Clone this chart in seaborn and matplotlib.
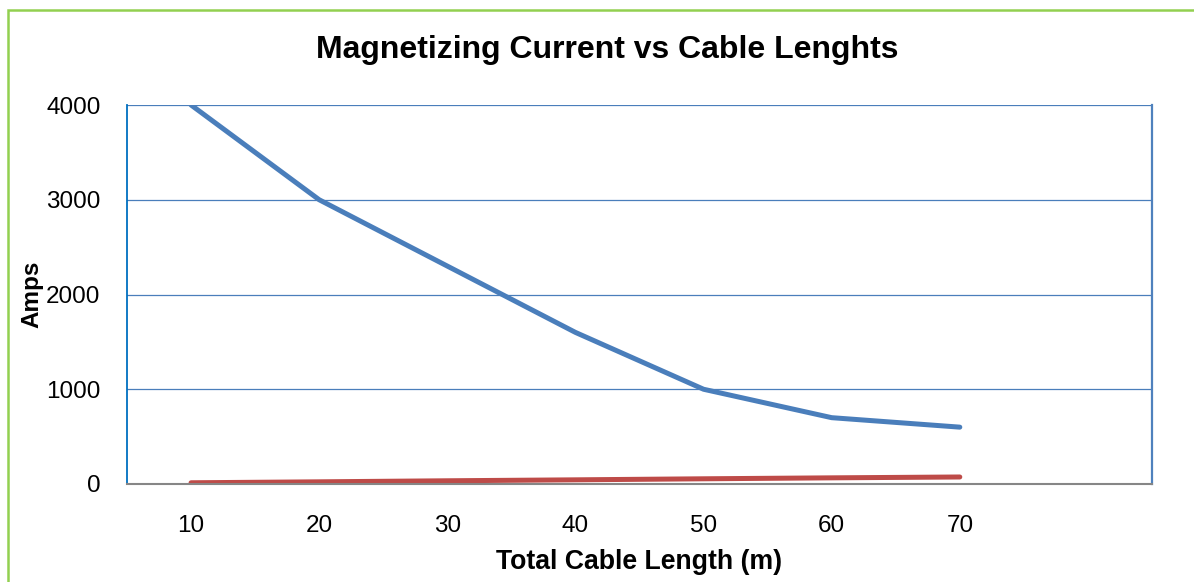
import matplotlib
matplotlib.use("Agg")
import matplotlib.pyplot as plt
import seaborn as sns
import pandas as pd
from matplotlib.patches import Rectangle

lengths = [10, 20, 30, 40, 50, 60, 70]
magnetizing_current = [4000, 3000, 2300, 1600, 1000, 700, 600]
second_series = [13, 23, 34, 44, 55, 65, 74]
y_ticks = [0, 1000, 2000, 3000, 4000]
title = "Magnetizing Current vs Cable Lenghts"
xlabel = "Total Cable Length (m)"
ylabel = "Amps"

sns.set_theme(style="white")
plt.rcParams['font.family'] = ['Liberation Sans', 'DejaVu Sans']
plt.rcParams['text.color'] = 'black'
plt.rcParams['axes.labelcolor'] = 'black'
plt.rcParams['xtick.color'] = 'black'
plt.rcParams['ytick.color'] = 'black'

df = pd.DataFrame({
    "x": lengths * 2,
    "y": magnetizing_current + second_series,
    "s": ["Magnetizing current"] * len(lengths) + ["Series 2"] * len(lengths),
})

fig = plt.figure(figsize=(11.94, 5.82), dpi=100)
fig.patch.set_facecolor("white")
ax = fig.add_axes([127/1194, 1-484/582, (1152-127)/1194, (484-105)/582])

sns.lineplot(data=df, x="x", y="y", hue="s", palette=["#4A7EBB", "#BE4B48"],
             linewidth=3.6, legend=False, ax=ax, solid_capstyle="round")

ax.set_xlim(5, 85)
ax.set_ylim(0, 4000)
ax.set_xticks(lengths)
ax.set_yticks(y_ticks)
ax.set_xticklabels([str(v) for v in lengths], fontsize=17.5)
ax.set_yticklabels([str(v) for v in y_ticks], fontsize=17.5)
ax.tick_params(axis="both", length=0)
ax.tick_params(axis="x", pad=22)
ax.tick_params(axis="y", pad=19)

for v in y_ticks[1:]:
    ax.axhline(v, color="#4A7EBB", linewidth=0.9, zorder=0.5)
ax.set_axisbelow(True)

ax.spines["top"].set_visible(False)
ax.spines["left"].set_color("#0070C0")
ax.spines["left"].set_linewidth(1.3)
ax.spines["right"].set_color("#4F81BD")
ax.spines["right"].set_linewidth(1.6)
ax.spines["bottom"].set_color("#868686")
ax.spines["bottom"].set_linewidth(1.5)

ax.set_xlabel(xlabel, fontsize=19.2, fontweight="bold", labelpad=9)
ax.set_ylabel(ylabel, fontsize=17.5, fontweight="bold", labelpad=2)
fig.text(607/1194, 1-50/582, title, ha="center", va="center",
         fontsize=23, fontweight="bold")

fig.patches.append(Rectangle((8/1194, -0.1), 1.2, (582-10)/582 + 0.1,
                             transform=fig.transFigure, fill=False,
                             edgecolor="#92D050", linewidth=1.8))

fig.savefig("out.png", dpi=100, facecolor="white")
